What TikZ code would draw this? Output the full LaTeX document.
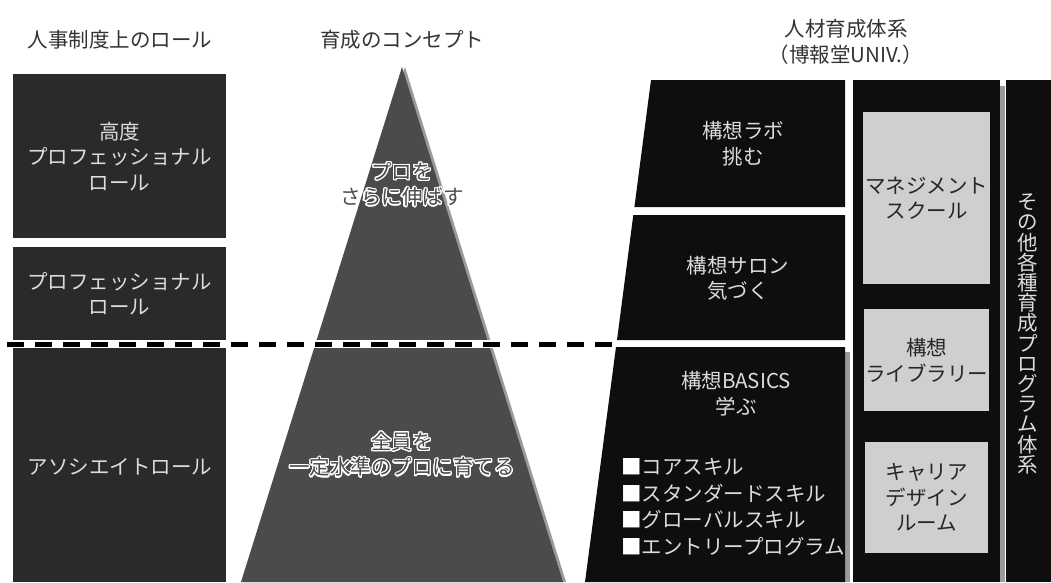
\documentclass[tikz,border=0pt]{standalone}
\usepackage{fontspec}
\setmainfont{Noto Sans CJK JP}
\usepackage[copies]{contour}
\contourlength{1.1pt}
\contournumber{24}
\definecolor{hdrgray}{HTML}{333333}
\definecolor{leftbox}{HTML}{2A2A2A}
\definecolor{trigray}{HTML}{4B4B4B}
\definecolor{trishadow}{HTML}{9A9A9A}
\definecolor{rightbox}{HTML}{0E0E0E}
\definecolor{lightbox}{HTML}{CFCFCF}
\definecolor{boxtext}{HTML}{DCDCDC}
\newcommand\jpfont{\fontsize{20.5}{25.5}\selectfont}
\newcommand\listfont{\fontsize{20.5}{26.7}\selectfont}
\newcommand\vertfont{\fontsize{20.5}{20.2}\selectfont}
\newcommand\wsq{\textcolor{white}{■}}
\begin{document}
\begin{tikzpicture}[x=1pt,y=-1pt,
  hdr/.style={font=\jpfont, text=hdrgray, align=center, inner sep=0pt},
  lbox/.style={fill=leftbox, anchor=north west, inner sep=0pt, font=\jpfont, text=boxtext, align=center},
  rtext/.style={font=\jpfont, text=boxtext, align=center, inner sep=0pt},
  gbox/.style={fill=lightbox, anchor=north west, inner sep=0pt, font=\jpfont, text=black!85, align=center},
  otext/.style={font=\jpfont, text=trigray, align=center, inner sep=0pt},
  shade/.style={fill=trishadow}
]
\useasboundingbox (0,0) rectangle (1051,582);
\fill[white] (0,0) rectangle (1051,582);

% headers
\node[hdr] (h1) at (120,40) {人事制度上のロール};
\node[hdr] (h2) at (402,40) {育成のコンセプト};
\node[hdr] (h3) at (846,42) {人材育成体系\\（博報堂UNIV.）};

% left role boxes
\node[lbox, minimum width=213pt, minimum height=164pt] (r1) at (13,74) {高度\\プロフェッショナル\\ロール};
\node[lbox, minimum width=213pt, minimum height=93pt] (r2) at (13,247) {プロフェッショナル\\ロール};
\node[lbox, minimum width=213pt, minimum height=234pt] (r3) at (13,348) {};
\node[rtext] (r3t) at (120,467) {アソシエイトロール};

% triangle
\fill[shade] (405,67) -- (566,582) -- (244,582) -- cycle;
\fill[trigray] (402,67) -- (563,582) -- (241,582) -- cycle;
\fill[white] (230,340) rectangle (600,348);
\node[otext] (t1) at (402,185) {\contour{white}{プロを}\\\contour{white}{さらに伸ばす}};
\node[otext] (t2) at (402,455) {\contour{white}{全員を}\\\contour{white}{一定水準のプロに育てる}};

% dashed division line
\draw[line width=5pt, dash pattern=on 17pt off 11pt] (7,344) -- (615,344);

% right program column
\fill[rightbox] (651,80) -- (845,80) -- (845,207) -- (634.4,207) -- cycle;
\fill[rightbox] (633.3,215) -- (845,215) -- (845,340) -- (617,340) -- cycle;
\fill[trishadow] (845,352) rectangle (850,582);
\fill[rightbox] (616,347) -- (845,347) -- (845,582) -- (585,582) -- cycle;
\node[rtext] (p1) at (743,143.5) {構想ラボ\\挑む};
\node[rtext] (p2) at (738,278.5) {構想サロン\\気づく};
\node[rtext] (p3) at (736,393.5) {構想BASICS\\学ぶ};
\node[rtext, font=\listfont, align=left, anchor=west] (p3l) at (621,507) {\wsq コアスキル\\\wsq スタンダードスキル\\\wsq グローバルスキル\\\wsq エントリープログラム};

% middle column
\fill[trishadow] (1000,86) rectangle (1005,582);
\fill[rightbox] (853,80) rectangle (1000,582);
\node[gbox, minimum width=127pt, minimum height=172pt] (g1) at (863,112) {マネジメント\\スクール};
\node[gbox, minimum width=125pt, minimum height=102pt] (g2) at (864,309) {構想\\ライブラリー};
\node[gbox, minimum width=123pt, minimum height=111pt] (g3) at (865,442) {キャリア\\デザイン\\ルーム};

% right column
\fill[rightbox] (1006,80) rectangle (1051,582);
\node[rtext, font=\vertfont] (v) at (1028,334) {そ\\の\\他\\各\\種\\育\\成\\プ\\ロ\\グ\\ラ\\ム\\体\\系};
\end{tikzpicture}
\end{document}
